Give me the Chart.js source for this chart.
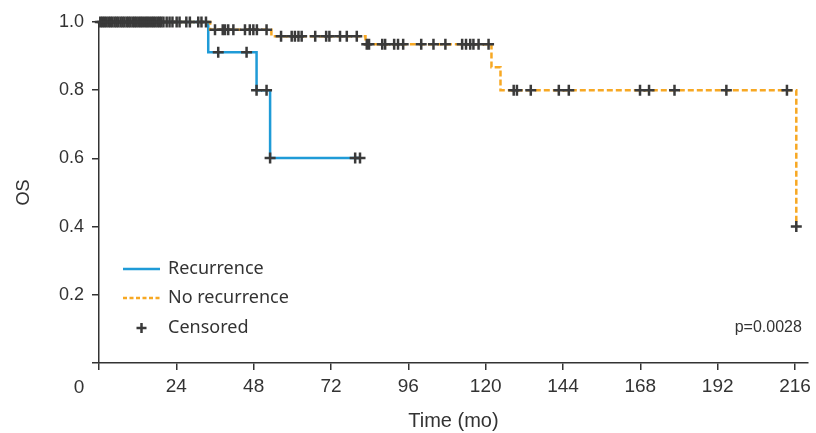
<!DOCTYPE html>
<html>
<head>
<meta charset="utf-8">
<script src="https://cdn.jsdelivr.net/npm/chart.js@4.4.1/dist/chart.umd.min.js"></script>
<style>
  html, body { margin: 0; padding: 0; background: #fff; }
  #wrap { width: 816px; height: 433px; }
</style>
</head>
<body>
<div id="wrap"><canvas id="myChart" width="816" height="433"></canvas></div>
<script>
// Kaplan-Meier steps (time in months, survival)
const recTime = [0, 33.9, 48.9, 53.1, 81.0];
const recSurv = [1.0, 0.911, 0.800, 0.601, 0.601];
const noRecTime = [0, 34.5, 53.5, 82.7, 121.8, 124.6, 216.4];
const noRecSurv = [1.0, 0.977, 0.958, 0.935, 0.867, 0.800, 0.400];

// Censored marks
const censTime = [
    0.4, 1.0, 1.6, 2.2, 2.9, 3.5, 4.1, 4.8, 5.4, 6.0, 6.7, 7.3, 7.9, 8.6, 9.2, 9.8,
    10.5, 11.1, 11.7, 12.4, 13.0, 13.6, 14.3, 14.9, 15.5, 16.2, 16.8, 17.4, 18.1, 18.7, 19.3, 20.0,
    21.0, 21.9, 22.8, 24.1, 25.0, 27.1, 28.2, 30.8, 31.8, 33.2,
    36.0, 38.4, 39.1, 40.1, 41.7, 45.3, 46.8, 47.9, 49.0, 52.0,
    56.5, 59.8, 60.8, 61.9, 62.9, 67.1, 70.5, 71.5, 74.8, 76.9, 80.0,
    83.1, 83.8, 87.9, 88.8, 91.6, 92.8, 94.4, 100.0, 103.8, 107.5, 112.7, 113.9, 115.2, 116.2, 117.8, 120.9,
    128.7, 129.7, 134.0, 142.7, 145.8, 167.9, 170.7, 178.6, 194.7, 213.5, 216.4,
    37.0, 45.8, 48.9, 52.0, 53.1, 79.5, 81.0
];
const censSurv = [
    1, 1, 1, 1, 1, 1, 1, 1, 1, 1, 1, 1, 1, 1, 1, 1,
    1, 1, 1, 1, 1, 1, 1, 1, 1, 1, 1, 1, 1, 1, 1, 1,
    1, 1, 1, 1, 1, 1, 1, 1, 1, 1,
    0.977, 0.977, 0.977, 0.977, 0.977, 0.977, 0.977, 0.977, 0.977, 0.977,
    0.958, 0.958, 0.958, 0.958, 0.958, 0.958, 0.958, 0.958, 0.958, 0.958, 0.958,
    0.935, 0.935, 0.935, 0.935, 0.935, 0.935, 0.935, 0.935, 0.935, 0.935, 0.935, 0.935, 0.935, 0.935, 0.935, 0.935,
    0.800, 0.800, 0.800, 0.800, 0.800, 0.800, 0.800, 0.800, 0.800, 0.800, 0.400,
    0.911, 0.911, 0.800, 0.800, 0.601, 0.601, 0.601
];

const xTicks = [0, 24, 48, 72, 96, 120, 144, 168, 192, 216];
const yTicks = [0, 0.2, 0.4, 0.6, 0.8, 1.0];
const legendLabels = ['Recurrence', 'No recurrence', 'Censored'];
const pValue = 'p=0.0028';

const blue = '#1f9bd7';
const orange = '#f7a823';
const dark = '#3a3a3a';
const textColor = '#333333';

const toPoints = (xs, ys) => xs.map((x, i) => ({ x: x, y: ys[i] }));

// Легенда та підписи всередині області графіка
const extras = {
    id: 'extras',
    afterDraw(chart) {
        const { ctx, chartArea, scales } = chart;
        ctx.save();
        const lx0 = chartArea.left + 24;
        const lx1 = chartArea.left + 61;
        const tx = chartArea.left + 69;
        const rows = [269, 298, 328];

        ctx.lineWidth = 2.5;
        ctx.strokeStyle = blue;
        ctx.beginPath();
        ctx.moveTo(lx0, rows[0]);
        ctx.lineTo(lx1, rows[0]);
        ctx.stroke();

        ctx.strokeStyle = orange;
        ctx.setLineDash([4, 2.5]);
        ctx.beginPath();
        ctx.moveTo(lx0, rows[1]);
        ctx.lineTo(lx1, rows[1]);
        ctx.stroke();
        ctx.setLineDash([]);

        // хрестик
        const cx = (lx0 + lx1) / 2;
        ctx.strokeStyle = dark;
        ctx.lineWidth = 2.5;
        ctx.beginPath();
        ctx.moveTo(cx - 5, rows[2]);
        ctx.lineTo(cx + 5, rows[2]);
        ctx.moveTo(cx, rows[2] - 5);
        ctx.lineTo(cx, rows[2] + 5);
        ctx.stroke();

        ctx.fillStyle = textColor;
        ctx.font = '18px "Noto Sans"';
        ctx.textBaseline = 'middle';
        ctx.textAlign = 'left';
        legendLabels.forEach((t, i) => ctx.fillText(t, tx, rows[i]));

        ctx.font = '16px "Liberation Sans"';
        ctx.textAlign = 'right';
        ctx.fillText(pValue, chartArea.right - 6, rows[2]);

        // "0" біля початку координат
        ctx.font = '19px "Liberation Sans"';
        ctx.textAlign = 'center';
        ctx.fillText('0', scales.x.getPixelForValue(0) - 20, 388);
        ctx.restore();
    }
};

const ctx = document.getElementById('myChart').getContext('2d');

const myChart = new Chart(ctx, {
    type: 'line',
    data: {
        datasets: [
            {
                label: 'Censored',
                data: toPoints(censTime, censSurv),
                showLine: false,
                pointStyle: 'cross',
                pointRadius: 5.5,
                pointBorderWidth: 2.5,
                pointBorderColor: dark,
                pointBackgroundColor: dark,
                clip: false,
                order: 0,
            },
            {
                label: 'No recurrence',
                data: toPoints(noRecTime, noRecSurv),
                stepped: 'before',
                borderColor: orange,
                borderWidth: 2.5,
                borderDash: [6, 3],
                pointRadius: 0,
                fill: false,
                clip: false,
                order: 1,
            },
            {
                label: 'Recurrence',
                data: toPoints(recTime, recSurv),
                stepped: 'before',
                borderColor: blue,
                borderWidth: 2.5,
                pointRadius: 0,
                fill: false,
                clip: false,
                order: 2,
            }
        ]
    },
    options: {
        responsive: false,
        animation: false,
        layout: {
            padding: { top: 22, right: 8, left: 0, bottom: 0 }
        },
        plugins: {
            legend: { display: false },
            tooltip: { enabled: false },
        },
        scales: {
            x: {
                type: 'linear',
                min: 0,
                max: 220,
                afterBuildTicks: (scale) => { scale.ticks = xTicks.map(v => ({ value: v })); },
                afterFit: (scale) => { scale.height = 70; },
                border: { display: true, color: textColor, width: 1.5 },
                grid: { drawOnChartArea: false, drawTicks: true, tickLength: 7, color: textColor, lineWidth: 1.5 },
                ticks: {
                    autoSkip: false,
                    maxRotation: 0,
                    padding: 5,
                    color: textColor,
                    font: { family: 'Liberation Sans', size: 19 },
                    callback: (v) => (v === 0 ? '' : v),
                },
                title: {
                    display: true,
                    text: 'Time (mo)',
                    color: textColor,
                    font: { family: 'Liberation Sans', size: 20 },
                    padding: { top: 0, bottom: 0 },
                }
            },
            y: {
                min: 0,
                max: 1,
                afterBuildTicks: (scale) => { scale.ticks = yTicks.map(v => ({ value: v })); },
                afterFit: (scale) => { scale.width = 99; },
                border: { display: true, color: textColor, width: 1.5 },
                grid: { drawOnChartArea: false, drawTicks: true, tickLength: 7, color: textColor, lineWidth: 1.5 },
                ticks: {
                    padding: 8,
                    color: textColor,
                    font: { family: 'Liberation Sans', size: 18 },
                    callback: (v) => (v === 0 ? '' : v.toFixed(1)),
                },
                title: {
                    display: true,
                    text: 'OS',
                    color: textColor,
                    font: { family: 'Liberation Sans', size: 18 },
                    padding: { top: 13, bottom: 4 },
                }
            }
        }
    },
    plugins: [extras],
});
</script>
</body>
</html>
